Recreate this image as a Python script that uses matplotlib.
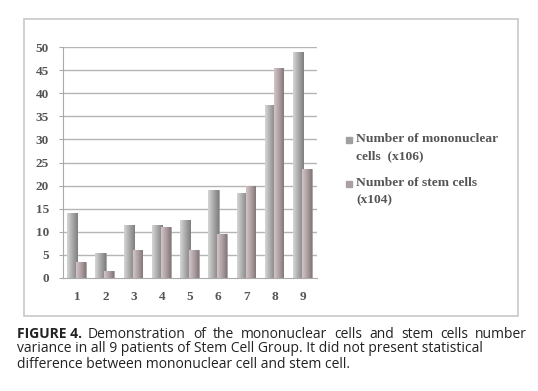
import matplotlib
matplotlib.use("Agg")
import matplotlib.pyplot as plt
import numpy as np
from matplotlib.patches import Rectangle
from matplotlib.colors import LinearSegmentedColormap

patients = ["1", "2", "3", "4", "5", "6", "7", "8", "9"]
mononuclear = [14, 5.5, 11.5, 11.5, 12.5, 19, 18.5, 37.5, 49]
stem = [3.5, 1.5, 6, 11, 6, 9.5, 20, 45.5, 23.5]
yticks = [0, 5, 10, 15, 20, 25, 30, 35, 40, 45, 50]
label_mono = "Number of mononuclear\ncells  (x106)"
label_stem = "Number of stem cells\n(x104)"

fig = plt.figure(figsize=(5.38, 3.91), dpi=100)
fig.patch.set_facecolor("white")

# outer frame
fig.patches.append(Rectangle((24/538, 1-316/391), (518-24)/538, (316-19)/391,
                             transform=fig.transFigure, fill=False,
                             edgecolor="#c8c8c8", lw=1.2))

ax = fig.add_axes([63/538, 1-278/391, (317-63)/538, (278-47)/391])
x = np.arange(1, len(patients)+1)

for t in yticks[1:]:
    ax.axhline(t, color="#b5b5b5", lw=1.0, zorder=0)

cm_mono = LinearSegmentedColormap.from_list("m", ["#d6d6d6", "#a9a9a9", "#7e7e7e"])
cm_stem = LinearSegmentedColormap.from_list("s", ["#d4c6c8", "#b0a2a4", "#857879"])
grad = np.linspace(0, 1, 64).reshape(1, -1)

b1 = ax.bar(x - 0.17, mononuclear, width=0.36, color="#a9a9a9", zorder=2)
b2 = ax.bar(x + 0.14, stem, width=0.34, color="#b0a2a4", zorder=3)
for bars, cm, z in ((b1, cm_mono, 2), (b2, cm_stem, 3)):
    for r in bars:
        x0, y0 = r.get_x(), r.get_y()
        w, h = r.get_width(), r.get_height()
        im = ax.imshow(grad, cmap=cm, aspect="auto",
                       extent=(x0, x0 + w, y0, y0 + h), zorder=z + 0.1)
        im.set_clip_path(r)
        r.set_edgecolor("#8a8a8a")
        r.set_linewidth(0.4)
ax.set_xlim(0.5, 9.5)
ax.set_ylim(0, 50)

ax.set_xticks(x)
ax.set_xticklabels(patients)
ax.set_yticks(yticks)
for lab in ax.get_xticklabels() + ax.get_yticklabels():
    lab.set_fontfamily("Liberation Serif")
    lab.set_fontsize(9.5)
    lab.set_fontweight("bold")
    lab.set_color("#555555")
ax.tick_params(axis="y", length=3, color="#aaaaaa", pad=7)
ax.tick_params(axis="x", length=0, pad=9)
for s in ["top", "right"]:
    ax.spines[s].set_visible(False)
ax.spines["left"].set_color("#aaaaaa")
ax.spines["bottom"].set_color("#aaaaaa")

# legend (manual layout)
leg_font = {"family": "Liberation Serif", "size": 9.7, "weight": "bold", "color": "#555555"}
for lab, col, ytop in ((label_mono, "#a0a0a0", 140), (label_stem, "#aaa0a2", 184)):
    fig.patches.append(Rectangle((346/538, 1-(ytop+3)/391), 6/538, 6/391,
                                 transform=fig.transFigure, color=col))
    fig.text(356/538, 1-(ytop-7)/391, lab, va="top", ha="left",
             linespacing=1.6, **leg_font)

# caption
cap_font = {"family": "Open Sans", "size": 10.0, "color": "#222222"}
fig.text(17/538, 1-334/391, "FIGURE 4.", fontweight="bold", va="center", **cap_font)
words = "Demonstration of the mononuclear cells and stem cells number".split()
renderer = fig.canvas.get_renderer()
objs = [fig.text(0, 1-334/391, w, va="center", **cap_font) for w in words]
widths = [o.get_window_extent(renderer).width for o in objs]
x_start, x_end = 88.0, 527.0
gap = (x_end - x_start - sum(widths)) / (len(words) - 1)
cx = x_start
for o, w in zip(objs, widths):
    o.set_x(cx / 538)
    cx += w + gap
fig.text(17/538, 1-349/391, "variance in all 9 patients of Stem Cell Group. It did not present statistical",
         va="center", **cap_font)
fig.text(17/538, 1-364/391, "difference between mononuclear cell and stem cell.",
         va="center", **cap_font)

fig.savefig("out.png", dpi=100)
